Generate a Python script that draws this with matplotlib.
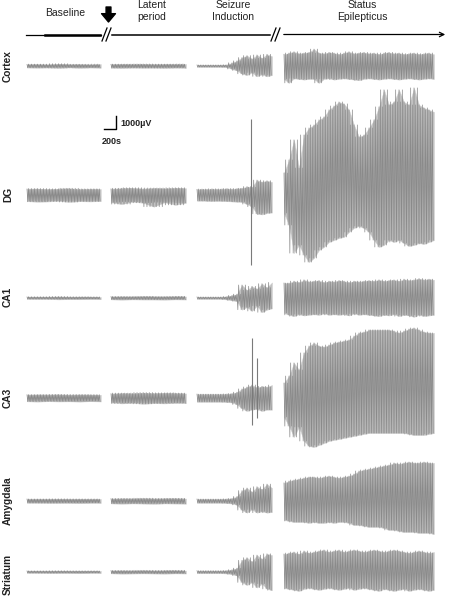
import numpy as np
import matplotlib
matplotlib.use("Agg")
import matplotlib.pyplot as plt

plt.rcParams['font.family'] = ['Liberation Sans', 'DejaVu Sans']

# scale: 200 s -> 12 px, 1000 uV -> 13 px
PX_PER_S = 12 / 200
PX_PER_UV = 13 / 1000

channels = ["Cortex", "DG", "CA1", "CA3", "Amygdala", "Striatum"]
phases = ["Baseline", "Latent\nperiod", "Seizure\nInduction", "Status\nEpilepticus"]
seg_dur = [1230, 1250, 1250, 2500]  # seconds shown per phase

# envelope of each trace (uV above / below baseline), read along each phase
cortex_up = [[120, 150, 110, 180, 120, 140, 110, 150],
             [130, 150, 140, 160, 130, 150, 140, 160],
             [80, 80, 80, 80, 80, 80, 100, 250, 400, 650, 800, 550, 850, 600, 900, 750],
             [900, 1000, 1100, 950, 1000, 1050, 1300, 1000, 950, 1050, 1000, 900, 1000, 1100, 950, 1000,
              1050, 950, 1000, 900, 1000, 1050, 950, 1000, 900, 950, 1000, 900, 950, 1000, 900]]
cortex_dn = [[120, 140, 120, 160, 110, 150, 120, 140],
             [140, 160, 130, 150, 140, 160, 130, 150],
             [80, 80, 80, 80, 80, 80, 100, 230, 350, 600, 700, 500, 800, 650, 800, 700],
             [1000, 1300, 950, 1000, 1050, 1000, 1000, 1300, 1000, 950, 1050, 1000, 950, 1000, 1050, 1100,
              1000, 950, 1000, 1050, 1000, 950, 1000, 1050, 1000, 950, 1000, 1050, 1000, 950, 1000]]

dg_up = [[460, 500, 440, 480, 520, 450, 470, 460],
         [470, 520, 560, 480, 540, 500, 560, 520],
         [430, 460, 440, 480, 450, 470, 500, 460, 500, 520, 650, 600, 1150, 1000, 1100, 1000],
         [1690, 2700, 4240, 2080, 4620, 5160, 5390, 5780, 6010, 6550, 6850, 7160, 7010, 6550, 5390, 4470,
          4620, 5160, 5780, 6780, 8090, 6930, 7160, 8090, 7160, 6930, 8240, 6930, 6700, 6550, 6390]]
dg_dn = [[480, 520, 500, 460, 540, 480, 500, 470],
         [560, 700, 520, 600, 900, 560, 760, 600],
         [450, 440, 460, 480, 460, 470, 480, 500, 520, 540, 700, 900, 1450, 1500, 1400, 1350],
         [1390, 2310, 4470, 3850, 4620, 5160, 4850, 4240, 4000, 3620, 3470, 3310, 3230, 2850, 2540, 2390,
          2540, 2850, 3470, 4000, 3850, 3470, 3620, 3470, 3700, 3930, 3850, 3700, 3770, 3620, 3470]]

ca1_up = [[80, 100, 80, 120, 80, 100, 90, 80],
          [110, 120, 110, 130, 120, 110, 130, 120],
          [80, 80, 80, 80, 80, 80, 120, 200, 300, 1000, 600, 900, 700, 1100, 800, 1200],
          [1150, 1150, 1300, 1200, 1400, 1250, 1300, 1350, 1200, 1300, 1250, 1350, 1300, 1200, 1300, 1250,
           1300, 1350, 1300, 1400, 1300, 1350, 1400, 1300, 1450, 1350, 1400, 1500, 1400, 1450, 1400]]
ca1_dn = [[80, 90, 80, 110, 90, 100, 80, 90],
          [110, 130, 110, 120, 120, 130, 110, 120],
          [80, 80, 80, 80, 80, 80, 120, 180, 250, 900, 700, 1000, 600, 1100, 900, 800],
          [1150, 1300, 1400, 1250, 1350, 1300, 1250, 1300, 1200, 1300, 1250, 1300, 1250, 1350, 1200, 1300,
           1250, 1300, 1350, 1400, 1300, 1350, 1250, 1400, 1300, 1350, 1450, 1300, 1400, 1350, 1300]]

ca3_up = [[250, 270, 260, 280, 250, 270, 260, 250],
          [330, 380, 350, 420, 360, 400, 380, 350],
          [300, 300, 300, 300, 300, 300, 320, 350, 450, 700, 850, 1000, 800, 900, 850, 1000],
          [1150, 1690, 2700, 2160, 3470, 4000, 4240, 4000, 3930, 4080, 4240, 4310, 4390, 4470, 4770, 5010,
           5080, 5240, 5240, 5240, 5240, 5240, 5160, 5010, 5160, 5310, 5390, 5240, 5080, 5010, 5010]]
ca3_dn = [[260, 280, 250, 270, 260, 280, 250, 270],
          [350, 420, 380, 450, 400, 420, 380, 400],
          [300, 300, 300, 300, 300, 300, 320, 350, 500, 800, 1000, 900, 850, 1000, 900, 900],
          [1460, 2160, 3000, 2230, 3310, 3700, 3770, 3620, 3470, 3310, 3230, 3160, 3080, 3000, 2930, 2850,
           2770, 2700, 2700, 2700, 2700, 2700, 2700, 2700, 2700, 2770, 2850, 2850, 2850, 2770, 2700]]

amy_up = [[150, 160, 150, 170, 150, 160, 150, 160],
          [180, 200, 190, 220, 190, 200, 210, 190],
          [150, 150, 150, 150, 150, 150, 170, 200, 350, 800, 1000, 700, 1100, 900, 1300, 1000],
          [1390, 1540, 1620, 1690, 1770, 1850, 1850, 1770, 1850, 1920, 1850, 1770, 1850, 1920, 2080, 2310,
           2390, 2460, 2540, 2620, 2700, 2770, 2930, 2850, 2930, 3000, 2930, 2930, 3000, 2930, 2930]]
amy_dn = [[150, 150, 160, 160, 150, 170, 150, 150],
          [190, 210, 190, 200, 220, 190, 200, 210],
          [150, 150, 150, 150, 150, 150, 170, 200, 300, 700, 900, 650, 900, 800, 900, 850],
          [1460, 1540, 1620, 1620, 1620, 1690, 1620, 1690, 1690, 1620, 1690, 1620, 1620, 1690, 1850, 1850,
           1920, 2000, 2000, 2000, 2080, 2230, 2230, 2310, 2390, 2390, 2390, 2460, 2460, 2460, 2540]]

str_up = [[80, 90, 80, 100, 80, 90, 80, 90],
          [110, 120, 110, 130, 110, 120, 130, 110],
          [100, 100, 100, 100, 100, 100, 120, 180, 300, 900, 1100, 800, 1300, 1000, 1400, 1300],
          [1380, 1460, 1540, 1380, 1620, 1460, 1540, 1620, 1700, 1540, 1620, 1690, 1540, 1620, 1700, 1620,
           1540, 1620, 1690, 1620, 1540, 1620, 1690, 1620, 1540, 1460, 1540, 1620, 1540, 1460, 1540]]
str_dn = [[80, 80, 90, 90, 80, 100, 80, 80],
          [110, 130, 120, 110, 120, 130, 110, 120],
          [100, 100, 100, 100, 100, 100, 120, 170, 280, 800, 1000, 800, 1200, 900, 1300, 1400],
          [1230, 1310, 1380, 1460, 1310, 1230, 1310, 1380, 1310, 1230, 1310, 1380, 1310, 1230, 1380, 1310,
           1230, 1310, 1380, 1460, 1310, 1380, 1460, 1380, 1310, 1460, 1380, 1310, 1380, 1460, 1380]]

# isolated spikes during seizure induction: (time into phase s, up uV, down uV)
dg_spikes = [(900, 5850, 5400)]
ca3_spikes = [(917, 4620, 2080), (1000, 3100, 1500)]

env_up = [cortex_up, dg_up, ca1_up, ca3_up, amy_up, str_up]
env_dn = [cortex_dn, dg_dn, ca1_dn, ca3_dn, amy_dn, str_dn]
spikes = [[], dg_spikes, [], ca3_spikes, [], []]

# layout in pixels
W, H = 451, 600
seg_x = [27, 111, 197, 284]
row_y = [66, 195, 298, 398, 501, 572]
label_y = [66, 194, 297, 398, 501, 574]

fig = plt.figure(figsize=(W / 100, H / 100), dpi=100)
ax = fig.add_axes([0, 0, 1, 1])
ax.set_xlim(0, W / PX_PER_S)
ax.set_ylim(H / PX_PER_UV, 0)
ax.axis('off')


def trace(t0, dur, up, dn, c):
    # dense oscillation drawn inside the read envelope
    up = np.array(up)
    dn = np.array(dn)
    t = t0 + np.linspace(0, dur, len(up))
    ax.fill_between(t, c - up, c + dn, color='#c2c2c2', lw=0.3, edgecolor='#d0d0d0')
    step = t[1] - t[0]
    k = max(2, int(round(step * PX_PER_S / 1.6)))
    tz, yz = [], []
    for i in range(len(up) - 1):
        for j in range(k):
            a = i if j % 2 == 0 else i + 1
            tz += [t[i] + j * step / k, t[i] + (j + 0.5) * step / k]
            yz += [c - up[a], c + dn[i + 1 - (a - i)]]
    ax.plot(tz, yz, color='#8a8a8a', lw=0.5)


for ci in range(len(channels)):
    c = row_y[ci] / PX_PER_UV
    for si in range(4):
        t0 = seg_x[si] / PX_PER_S
        trace(t0, seg_dur[si], env_up[ci][si], env_dn[ci][si], c)
        if si == 2:
            for ts, su, sd in spikes[ci]:
                ax.vlines(t0 + ts, c - su, c + sd, color='#7a7a7a', lw=0.8)

# overlay axes in pixel units for annotations
lay = fig.add_axes([0, 0, 1, 1], facecolor='none')
lay.set_xlim(0, W)
lay.set_ylim(H, 0)
lay.axis('off')

for name, ly in zip(channels, label_y):
    lay.text(8, ly, name, rotation=90, ha='center', va='center', fontsize=7.3,
             fontweight='bold', color='#222222')

# timeline
ty = 34.5
lay.plot([26, 101], [ty, ty], color='black', lw=0.9)
lay.plot([45, 100], [ty, ty], color='black', lw=1.8)
lay.plot([112, 270], [ty, ty], color='black', lw=1.1)
lay.annotate('', xy=(448, ty), xytext=(281, ty),
             arrowprops=dict(arrowstyle='->', color='black', lw=0.9, mutation_scale=8))
for bx in (102, 271):
    lay.plot([bx, bx + 5], [ty + 6.5, ty - 6.5], color='black', lw=0.9)
    lay.plot([bx + 4, bx + 9], [ty + 6.5, ty - 6.5], color='black', lw=0.9)

# injection arrow
lay.annotate('', xy=(108.5, 22), xytext=(108.5, 7),
             arrowprops=dict(width=3.5, headwidth=10, headlength=6, color='black'))

# phase titles
lay.text(65, 13, phases[0], ha='center', va='center', fontsize=7.5, color='#222222')
for px, txt in zip([152, 233, 362], phases[1:]):
    lay.text(px, 11, txt, ha='center', va='center', fontsize=7.5, color='#222222',
             linespacing=1.25)

# scale bar
sb_t = 104 / PX_PER_S
sb_v = 129 / PX_PER_UV
ax.plot([sb_t, sb_t + 200, sb_t + 200], [sb_v, sb_v, sb_v - 1000], color='black', lw=1.0)
lay.text(120, 124, "1000\u00b5V", ha='left', va='center', fontsize=6.5, fontweight='bold',
         color='#222222')
lay.text(102, 142, "200s", ha='left', va='center', fontsize=6.5, fontweight='bold',
         color='#222222')

fig.savefig('out.png', dpi=100)
